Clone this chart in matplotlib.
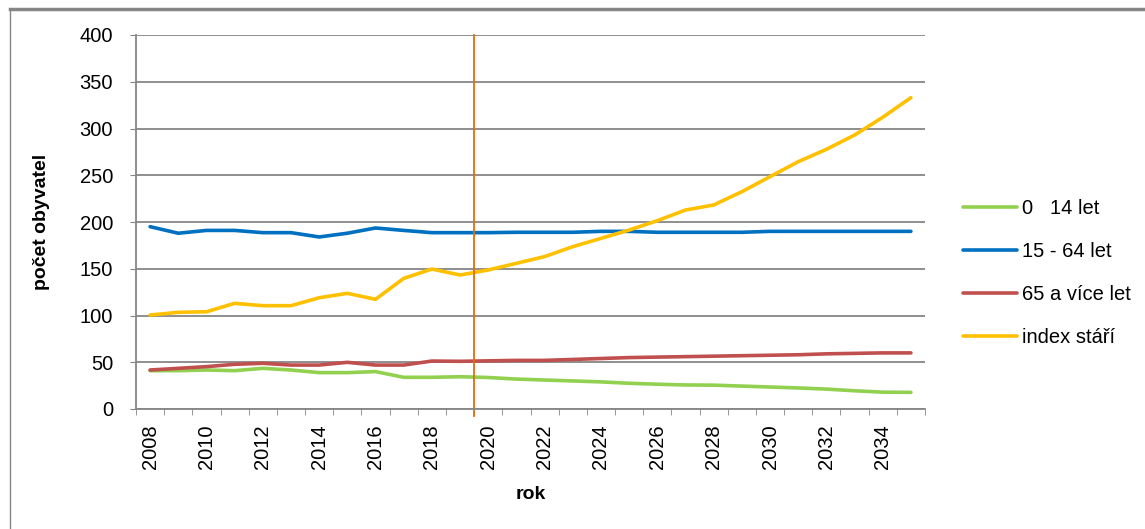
import numpy as np
import matplotlib.pyplot as plt
from matplotlib.lines import Line2D
from matplotlib.ticker import FixedLocator, MultipleLocator

plt.rcParams['font.family'] = ['Liberation Sans', 'DejaVu Sans']

#
# data
#
years = list(range(2008, 2036))
deti = [41, 41, 41.7, 41, 43.5, 41.7, 38.9, 38.9, 40, 33.9, 33.9, 34.5, 33.7, 32,
        31, 30, 29, 27.5, 26.5, 25.7, 25.5, 24.5, 23.5, 22.5, 21.3, 19.5, 18, 17.8]
produktivni = [195, 188, 191, 191, 188.6, 188.6, 184, 188, 193.6, 191, 188.6, 188.6, 188.6, 189,
               189, 189, 190, 190, 189, 189, 189, 189, 190, 190, 190, 190, 190, 190]
seniori = [41.7, 43.5, 45.3, 47.8, 48.9, 47, 47, 49.9, 47, 47, 51.3, 51, 51.5, 52,
           52, 53, 54, 55, 55.5, 56, 56.5, 57, 57.5, 58, 59, 59.5, 60, 60]
index_stari = [100.5, 103.4, 104, 113, 110.5, 110.5, 119, 123.7, 117.3, 139.7, 149.7, 143.3, 148.7, 155.8,
               163, 173.6, 182.5, 191.4, 201.4, 212.8, 218.2, 232.4, 248.5, 264.5, 277.7, 293, 312, 333]
labels = ['0   14 let', '15 - 64 let', '65 a více let', 'index stáří']
colors = ['#92D050', '#0070C0', '#C0504D', '#FFC000']
split_year = 2019.5  # vertical line between 2019 and 2020

fig = plt.figure(figsize=(11.45, 5.29), dpi=100)
ax = fig.add_axes([136/1145, 1-409/529, (925-136)/1145, (409-35)/529])

x = np.arange(len(years))
for vals, lab, c in zip([deti, produktivni, seniori, index_stari], labels, colors):
    ax.plot(x, vals, color=c, lw=2.6, label=lab, solid_capstyle='round')

ax.axvline(split_year - years[0], color='#E46C0A', lw=1.3, ymin=-0.02, ymax=1.0, clip_on=False)

ax.set_xlim(-0.5, len(years) - 0.5)
ax.set_ylim(0, 400)
ax.yaxis.set_major_locator(MultipleLocator(50))
ax.grid(axis='y', color='#868686', lw=1.3)
ax.set_axisbelow(True)

ax.set_xticks(x[::2])
ax.set_xticklabels([str(y) for y in years[::2]], rotation=90, fontsize=14.5)
ax.xaxis.set_minor_locator(FixedLocator(np.arange(-0.5, len(years), 1)))
ax.tick_params(axis='x', which='major', length=0, pad=11)
ax.tick_params(axis='x', which='minor', length=4.5, color='#868686', direction='out')
ax.tick_params(axis='y', length=4.5, color='#868686', labelsize=14.5, pad=12)

for s in ['top', 'right']:
    ax.spines[s].set_visible(False)
for s in ['left', 'bottom']:
    ax.spines[s].set_color('#868686')
    ax.spines[s].set_linewidth(1.3)

ax.set_ylabel('počet obyvatel', fontsize=14, fontweight='bold')
ax.yaxis.set_label_coords((50-136)/789, 0.5)
ax.set_xlabel('rok', fontsize=14, fontweight='bold')
ax.xaxis.set_label_coords(0.5, (409-486)/374)

leg = ax.legend(loc='center left', bbox_to_anchor=(955/1145, 1-273/529), bbox_transform=fig.transFigure,
                frameon=False, fontsize=14.5, handlelength=2.7, handletextpad=0.25, labelspacing=1.2,
                borderaxespad=0)

# outer frame of the chart area
fig.add_artist(Line2D([10/1145, 1], [1-9/529, 1-9/529], color='#868686', lw=2.5))
fig.add_artist(Line2D([10/1145, 10/1145], [0, 1-9/529], color='#868686', lw=1))

fig.savefig('out.png', dpi=100)
